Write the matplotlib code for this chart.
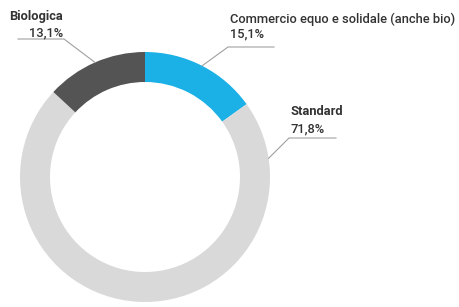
import numpy as np
import matplotlib
matplotlib.use('Agg')
import matplotlib.pyplot as plt

# data
labels = ['Commercio equo e solidale (anche bio)', 'Standard', 'Biologica']
values = [15.1, 71.8, 13.1]
pct_labels = ['15,1%', '71,8%', '13,1%']
colors = ['#1bb0e6', '#d9d9d9', '#545454']

plt.rcParams['font.family'] = ['Roboto', 'DejaVu Sans']

fig = plt.figure(figsize=(4.6, 3.07), dpi=100)
ax = fig.add_axes([0, 0, 1, 1])

cx, cy, R = 145, 130, 125
wedges, _ = ax.pie(values, colors=colors, startangle=90, counterclock=False,
                   center=(cx, cy), radius=R, wedgeprops=dict(width=30, linewidth=0),
                   frame=True)
ax.set_xlim(0, 460)
ax.set_ylim(0, 307)
ax.set_aspect('equal')
ax.axis('off')

def ring_point(ang):
    a = np.deg2rad(ang)
    return cx + R * np.cos(a), cy + R * np.sin(a)

txt = '#333333'
lc = '#a0a0a0'
fs = 9.3

# Biologica (mid-angle of wedge)
w = wedges[2]
p = ring_point((w.theta1 + w.theta2) / 2)
ax.plot([18, 64, p[0]], [268, 268, p[1]], color=lc, lw=0.8)
ax.text(63, 287, labels[2], ha='right', va='baseline', fontsize=fs, fontweight='bold', color=txt)
ax.text(63, 271, pct_labels[2], ha='right', va='baseline', fontsize=fs, fontweight='medium', color=txt)

# Commercio
w = wedges[0]
p = ring_point((w.theta1 + w.theta2) / 2)
ax.plot([274, 228, p[0]], [260, 260, p[1]], color=lc, lw=0.8)
ax.text(230, 284, labels[0], ha='left', va='baseline', fontsize=fs, fontweight='medium', color=txt)
ax.text(230, 270, pct_labels[0], ha='left', va='baseline', fontsize=fs, fontweight='medium', color=txt)

# Standard
p = ring_point(8.6)
ax.plot([336, 289, p[0]], [169, 169, p[1]], color=lc, lw=0.8)
ax.text(291, 192, labels[1], ha='left', va='baseline', fontsize=fs, fontweight='bold', color=txt)
ax.text(291, 175, pct_labels[1], ha='left', va='baseline', fontsize=fs, fontweight='medium', color=txt)

fig.savefig('out.png', dpi=100)
